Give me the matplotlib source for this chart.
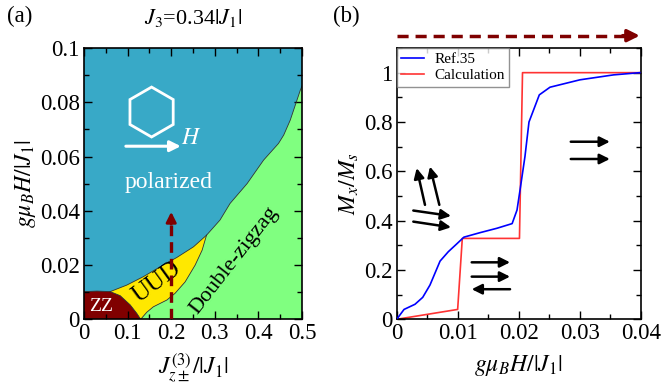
import numpy as np
import matplotlib
matplotlib.use("Agg")
import matplotlib.pyplot as plt
from matplotlib.patches import Polygon
from matplotlib.ticker import MultipleLocator

plt.rcParams['font.family'] = ['Liberation Serif', 'DejaVu Serif']
plt.rcParams['mathtext.fontset'] = 'stix'

# ---------------- data: phase diagram (a) ----------------
zz_top_x = [0.0, 0.03, 0.06]
zz_top_y = [0.0102, 0.0104, 0.0102]
zz_uud_x = [0.06, 0.083, 0.106, 0.121, 0.130]
zz_uud_y = [0.0102, 0.0087, 0.0053, 0.0022, 0.0]
uud_green_x = [0.130, 0.144, 0.159, 0.19, 0.209, 0.232, 0.255, 0.271, 0.281]
uud_green_y = [0.0, 0.0026, 0.0046, 0.0071, 0.0096, 0.0138, 0.020, 0.0255, 0.031]
uud_blue_x = [0.06, 0.098, 0.136, 0.175, 0.213, 0.251, 0.281]
uud_blue_y = [0.0102, 0.0126, 0.0157, 0.0194, 0.0228, 0.0267, 0.031]
blue_green_x = [0.281, 0.312, 0.335, 0.374, 0.412, 0.446, 0.458, 0.473, 0.496, 0.5]
blue_green_y = [0.031, 0.0366, 0.0427, 0.050, 0.0587, 0.0648, 0.0679, 0.0734, 0.0844, 0.086]
path_x = 0.2
path_top = 0.0396

# ---------------- data: magnetization (b) ----------------
ref_h = [0, 0.0012, 0.003, 0.00426, 0.00545, 0.0071, 0.00845, 0.0098, 0.011, 0.0136,
         0.0164, 0.0189, 0.0197, 0.0202, 0.0210, 0.02166, 0.02335, 0.0251, 0.030, 0.0355, 0.0398]
ref_m = [0, 0.040, 0.061, 0.089, 0.139, 0.236, 0.274, 0.305, 0.333, 0.351,
         0.369, 0.388, 0.443, 0.525, 0.66, 0.80, 0.91, 0.941, 0.971, 0.991, 1.0]
calc_h = [0, 0.00998, 0.01074, 0.0201, 0.0206, 0.04]
calc_m = [0, 0.040, 0.328, 0.328, 1.0, 1.0]

C_BLUE = '#38A9C7'
C_GREEN = '#80FF80'
C_YELLOW = '#FFE800'
C_ZZ = '#800000'
C_PATH = '#7F0000'

fig = plt.figure(figsize=(6.61, 3.91), dpi=100)
axa = fig.add_axes([84/661, 1-319.3/391, 218/661, 271.3/391])
axb = fig.add_axes([396.7/661, 1-319.3/391, 244.3/661, 271.3/391])

# ---- panel (a) ----
axa.set_xlim(0, 0.5)
axa.set_ylim(0, 0.1)
axa.set_facecolor(C_BLUE)
bcol = '#333333'
green_poly = list(zip(blue_green_x, blue_green_y)) + [(0.5, 0.0)] + list(zip(uud_green_x, uud_green_y))
axa.add_patch(Polygon(green_poly, closed=True, facecolor=C_GREEN, edgecolor='none', zorder=1))
uud_poly = list(zip(zz_uud_x, zz_uud_y)) + list(zip(uud_green_x, uud_green_y)) + list(zip(uud_blue_x[::-1], uud_blue_y[::-1]))
axa.add_patch(Polygon(uud_poly, closed=True, facecolor=C_YELLOW, edgecolor='none', zorder=1))
zz_poly = [(0, 0)] + list(zip(zz_top_x, zz_top_y)) + list(zip(zz_uud_x, zz_uud_y))
axa.add_patch(Polygon(zz_poly, closed=True, facecolor=C_ZZ, edgecolor='none', zorder=1))
for xs, ys in [(zz_top_x, zz_top_y), (zz_uud_x, zz_uud_y), (uud_green_x, uud_green_y),
               (uud_blue_x, uud_blue_y), (blue_green_x, blue_green_y)]:
    axa.plot(xs, ys, color=bcol, lw=0.6, zorder=2)

axa.plot([path_x, path_x], [0, path_top - 0.003], color=C_PATH, lw=2.4, ls=(0, (3.2, 1.8)), zorder=5)
axa.annotate('', xy=(path_x, path_top), xytext=(path_x, path_top - 0.0045),
             arrowprops=dict(arrowstyle='-|>', color=C_PATH, lw=2.0, mutation_scale=15,
                             shrinkA=0, shrinkB=0), zorder=5)

axa.text(0.04, 0.0048, 'ZZ', color='white', fontsize=14, ha='center', va='center', zorder=4)
axa.text(0.168, 0.0135, 'UUD', color='black', fontsize=18, ha='center', va='center', rotation=36, zorder=4)
axa.text(0.345, 0.0215, 'Double-zigzag', color='black', fontsize=16, ha='center', va='center', rotation=52, zorder=4)
axa.text(0.193, 0.0505, 'polarized', color='white', fontsize=17, ha='center', va='center', zorder=4)
hx0, hy0 = 0.155, 0.0764
ry = 0.0092
rx = ry * (0.5 / 218) / (0.1 / 271.3)
ang = np.deg2rad(np.arange(90, 450, 60))
hex_pts = np.column_stack([hx0 + rx * np.cos(ang), hy0 + ry * np.sin(ang)])
axa.add_patch(Polygon(hex_pts, closed=True, facecolor='none', edgecolor='white', lw=2, zorder=4))
axa.annotate('', xy=(0.222, 0.0638), xytext=(0.096, 0.0638),
             arrowprops=dict(arrowstyle='-|>', color='white', lw=2.2, mutation_scale=16,
                             shrinkA=0, shrinkB=0), zorder=4)
axa.text(0.245, 0.0668, '$H$', color='white', fontsize=17, ha='center', va='center', zorder=4)

axa.xaxis.set_minor_locator(MultipleLocator(0.05))
axa.yaxis.set_minor_locator(MultipleLocator(0.01))
axa.set_xticks([0, 0.1, 0.2, 0.3, 0.4, 0.5])
axa.set_xticklabels(['0', '0.1', '0.2', '0.3', '0.4', '0.5'])
axa.set_yticks([0, 0.02, 0.04, 0.06, 0.08, 0.1])
axa.set_yticklabels(['0', '0.02', '0.04', '0.06', '0.08', '0.1'])
axa.set_xlabel(r'$J^{(3)}_{z\pm}/|J_1|$', fontsize=17, labelpad=5)
axa.set_ylabel(r'$g\mu_B H/|J_1|$', fontsize=17, labelpad=1)
axa.set_title(r'$J_3$=0.34$|J_1|$', fontsize=16, pad=17)

# ---- panel (b) ----
axb.set_xlim(0, 0.04)
axb.set_ylim(0, 1.1)
axb.plot(ref_h, ref_m, color='#0000FF', lw=1.2, label='Ref.35', zorder=3)
axb.plot(calc_h, calc_m, color='#FF3333', lw=1.2, label='Calculation', zorder=2)
leg = axb.legend(loc='upper left', fontsize=11, frameon=True, fancybox=False,
                 borderaxespad=0.0, handlelength=1.5, handletextpad=0.65,
                 borderpad=0.3, labelspacing=0.15)
leg.get_frame().set_edgecolor('#777777')
leg.get_frame().set_linewidth(1.0)

spin_arrows = [
    ((0.00463, 0.464), (0.00327, 0.613)),
    ((0.00698, 0.464), (0.00545, 0.619)),
    ((0.00272, 0.441), (0.00889, 0.419)),
    ((0.00272, 0.396), (0.00889, 0.373)),
    ((0.01228, 0.231), (0.01856, 0.231)),
    ((0.01228, 0.173), (0.01856, 0.173)),
    ((0.01856, 0.122), (0.01228, 0.122)),
    ((0.0285, 0.720), (0.0349, 0.720)),
    ((0.0285, 0.650), (0.0349, 0.650)),
]
for tail, head in spin_arrows:
    axb.annotate('', xy=head, xytext=tail,
                 arrowprops=dict(arrowstyle='-|>', color='black', lw=1.8, mutation_scale=15,
                                 shrinkA=0, shrinkB=0))

axb.plot([0, 0.0385], [1.15, 1.15], color=C_PATH, lw=2.5, ls=(0, (3.2, 2)), clip_on=False)
axb.annotate('', xy=(0.0398, 1.15), xytext=(0.037, 1.15), annotation_clip=False,
             arrowprops=dict(arrowstyle='-|>', color=C_PATH, lw=2.5, mutation_scale=18,
                             shrinkA=0, shrinkB=0))

axb.xaxis.set_minor_locator(MultipleLocator(0.005))
axb.set_xticks([0, 0.01, 0.02, 0.03, 0.04])
axb.set_xticklabels(['0', '0.01', '0.02', '0.03', '0.04'])
axb.set_yticks([0, 0.2, 0.4, 0.6, 0.8, 1.0])
axb.set_yticklabels(['0', '0.2', '0.4', '0.6', '0.8', '1'])
axb.yaxis.set_minor_locator(MultipleLocator(0.1))
axb.set_xlabel(r'$g\mu_B H/|J_1|$', fontsize=17, labelpad=6)
axb.set_ylabel(r'$M_x/M_s$', fontsize=17, labelpad=2)

for ax in (axa, axb):
    ax.tick_params(which='both', direction='in', top=True, right=True, labelsize=16.5, width=1.0)
    ax.tick_params(which='major', length=6, pad=3)
    ax.tick_params(which='minor', length=3.5)
    for sp in ax.spines.values():
        sp.set_linewidth(1.2)

fig.text(20/661, 1-16/391, '(a)', fontsize=16.5, ha='center', va='center')
fig.text(346/661, 1-16/391, '(b)', fontsize=16.5, ha='center', va='center')

fig.savefig('out.png', dpi=100)
